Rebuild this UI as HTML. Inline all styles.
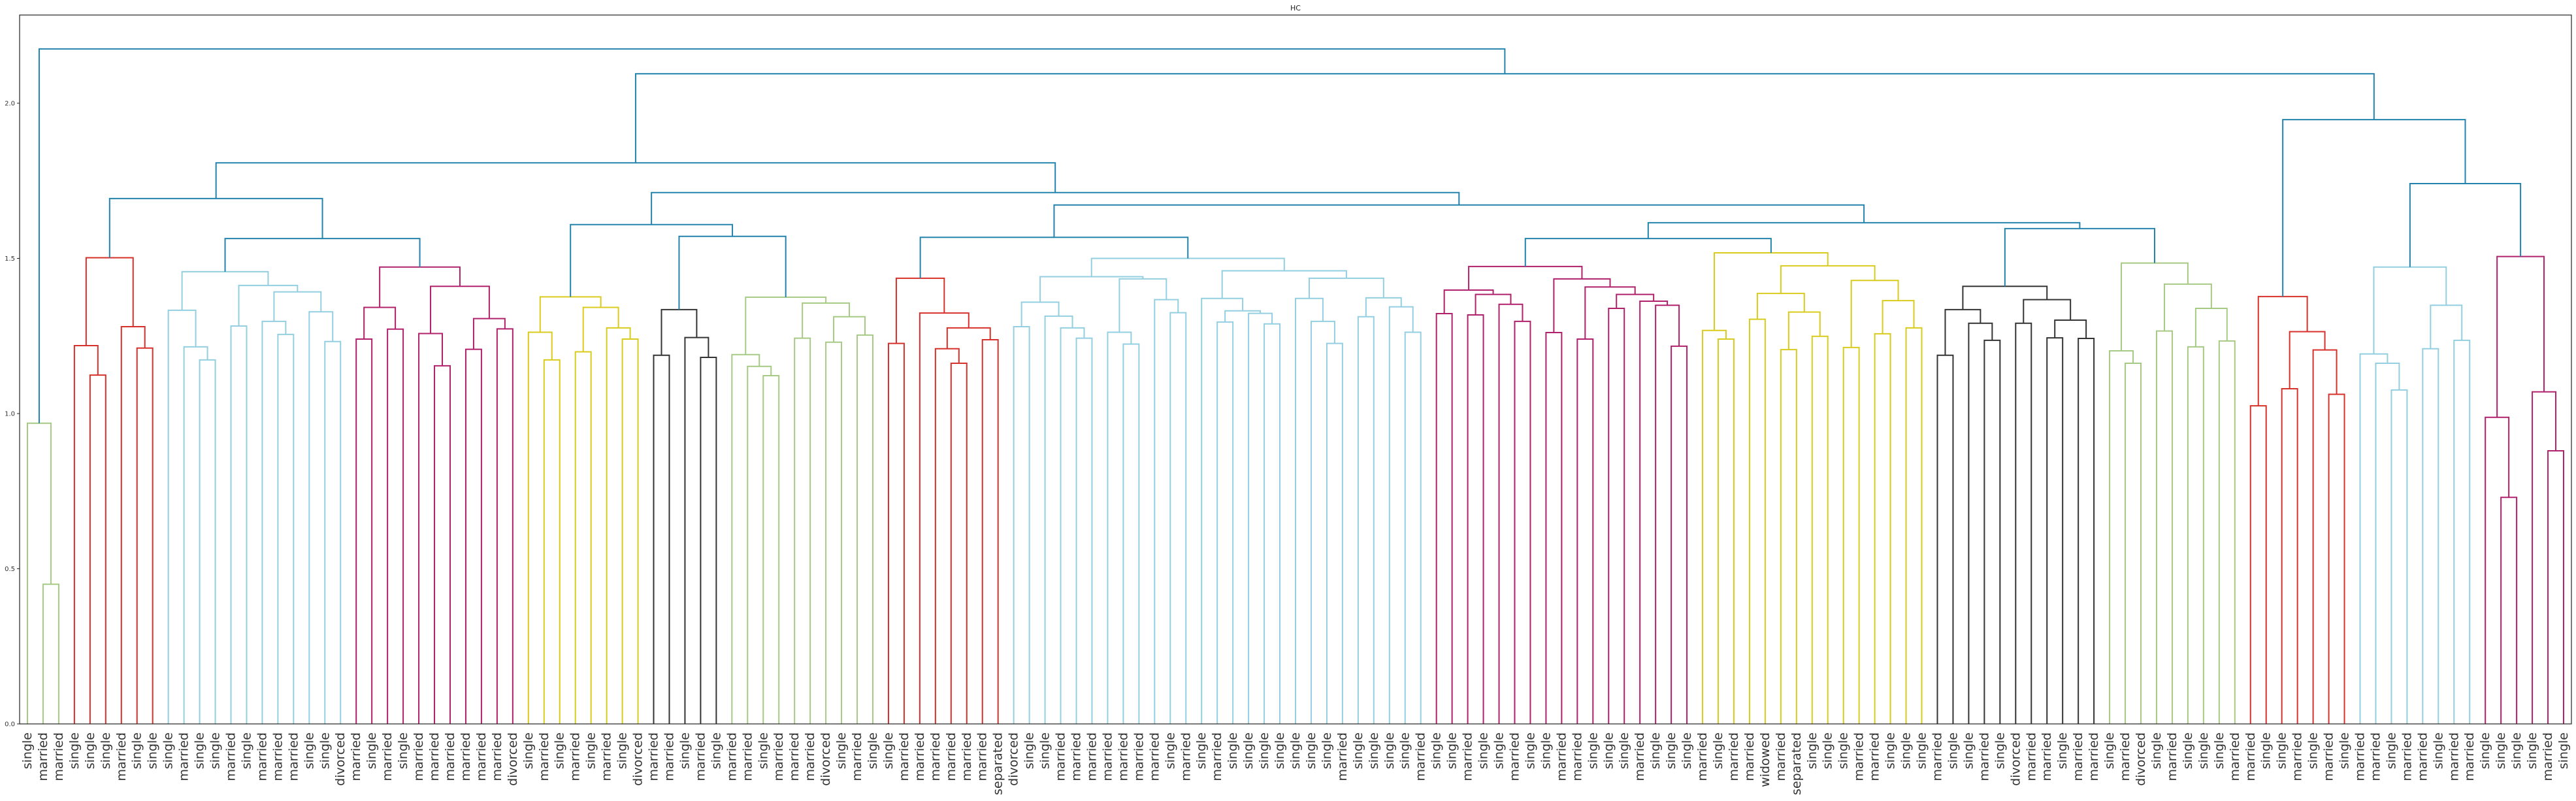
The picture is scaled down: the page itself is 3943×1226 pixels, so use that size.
<!DOCTYPE html>
<html><head><meta charset="utf-8">
<style>
html,body{margin:0;padding:0;background:#fff;}
svg{display:block;}
</style></head>
<body>
<svg id="chart" width="3943" height="1226" viewBox="0 0 3943 1226" xmlns="http://www.w3.org/2000/svg" font-family="'DejaVu Sans','Liberation Sans',sans-serif">
  <rect x="0" y="0" width="3943" height="1226" fill="#fff"/>
  <text x="1983" y="16" font-size="11" text-anchor="middle" fill="#222">HC</text>
  <g id="links"></g>
  <g id="yaxis"></g>
  <g id="xlabels"></g>
  <rect x="30" y="23" width="3906" height="1085" fill="none" stroke="#222" stroke-width="1.2"/>
</svg>
<script>
const labels = ["single","married","married","single","single","single","married","single","single","single",
"married","single","single","married","single","married","married","married","single","single",
"divorced","married","single","married","single","married","married","married","married","married",
"married","divorced","single","married","single","married","single","married","single","divorced",
"married","married","single","married","single","married","married","single","married","married",
"married","divorced","single","married","single","single","married","married","married","married",
"married","married","separated","divorced","single","single","married","married","married","married",
"married","married","married","single","married","single","married","single","single","single",
"single","single","single","single","married","single","single","single","single","married",
"single","single","married","single","single","married","single","single","married","married",
"single","single","single","married","single","single","single","married","single","married",
"married","widowed","married","separated","single","single","single","married","married","single",
"single","single","married","single","single","married","single","divorced","married","married",
"single","married","married","single","married","divorced","single","married","single","single",
"single","married","married","single","single","married","single","married","single","married",
"married","single","married","married","single","married","married","single","single","single",
"single","married","single"];
const yTicks = [0.0, 0.5, 1.0, 1.5, 2.0];
const yTickLabels = ["0.0","0.5","1.0","1.5","2.0"];
const colors = {blue:"#2383ad", red:"#d7302a", lb:"#93cfe0", mag:"#b1216b", yel:"#d9cb1c", blk:"#333333", grn:"#a6ca84"};

function M(a,b,h){return {a:a,b:b,h:h,c:null};}
function tag(n,c){ if(typeof n==="number") return n; if(!n.c) n.c=c; tag(n.a,c); tag(n.b,c); return n; }

const green1 = tag(M(1, M(2,3,0.45), 0.969),"grn");
const red1 = tag(M(M(4,M(5,6,1.124),1.219), M(7,M(8,9,1.211),1.28), 1.502),"red");
const lb1 = tag(M(M(10,M(11,M(12,13,1.173),1.215),1.333), M(M(14,15,1.282), M(M(16,M(17,18,1.255),1.297), M(19,M(20,21,1.232),1.328),1.392),1.413),1.457),"lb");
const mag1 = tag(M(M(M(22,23,1.24),M(24,25,1.272),1.342), M(M(26,M(27,28,1.154),1.258), M(M(29,30,1.207),M(31,32,1.273),1.306),1.41),1.472),"mag");
const yel1 = tag(M(M(33,M(34,35,1.173),1.262), M(M(36,37,1.199), M(38,M(39,40,1.24),1.276),1.342),1.376),"yel");
const blk1 = tag(M(M(41,42,1.188), M(43,M(44,45,1.181),1.245),1.335),"blk");
const grn2 = tag(M(M(46,M(47,M(48,49,1.122),1.152),1.19), M(M(50,51,1.243), M(M(52,53,1.23),M(54,55,1.253),1.312),1.356),1.375),"grn");
const red2 = tag(M(M(56,57,1.226), M(58, M(M(59,M(60,61,1.162),1.209), M(62,63,1.238),1.276),1.324),1.436),"red");
const lbA = M(M(64,65,1.28), M(66,M(67,M(68,69,1.243),1.276),1.314),1.359);
const lbB = M(M(70,M(71,72,1.224),1.262), M(73,M(74,75,1.325),1.367),1.434);
const lbC = M(76, M(M(77,78,1.295), M(79,M(80,81,1.289),1.323),1.331),1.371);
const lbD = M(82, M(83,M(84,85,1.226),1.297),1.371);
const lbE = M(M(86,87,1.312), M(88,M(89,90,1.262),1.344),1.373);
const lb2 = tag(M(M(lbA,lbB,1.441), M(lbC, M(lbD,lbE,1.436),1.46),1.5),"lb");
const mag2 = tag(M(M(M(91,92,1.322), M(M(93,94,1.318), M(95,M(96,97,1.297),1.352),1.384),1.398), M(M(98,99,1.261), M(M(100,101,1.24), M(M(102,103,1.339), M(104,M(105,M(106,107,1.217),1.349),1.362),1.384),1.408),1.434),1.474),"mag");
const yel2 = tag(M(M(108,M(109,110,1.24),1.268), M(M(M(111,112,1.304), M(M(113,114,1.206),M(115,116,1.249),1.327),1.387), M(M(117,118,1.213), M(M(119,120,1.257),M(121,122,1.276),1.364),1.429),1.476),1.518),"yel");
const blk2 = tag(M(M(M(123,124,1.188), M(125,M(126,127,1.236),1.291),1.335), M(M(128,129,1.291), M(M(130,131,1.244),M(132,133,1.242),1.301),1.367),1.41),"blk");
const grn3 = tag(M(M(134,M(135,136,1.162),1.202), M(M(137,138,1.266), M(M(139,140,1.215),M(141,142,1.234),1.339),1.417),1.485),"grn");
const red3 = tag(M(M(143,144,1.025), M(M(145,146,1.08), M(147,M(148,149,1.062),1.205),1.264),1.377),"red");
const lb3 = tag(M(M(150,M(151,M(152,153,1.076),1.162),1.192), M(M(154,155,1.209),M(156,157,1.236),1.349),1.472),"lb");
const mag3 = tag(M(M(158,M(159,160,0.73),0.988), M(161,M(162,163,0.88),1.07),1.506),"mag");

const nA = M(red1, M(lb1, mag1, 1.564), 1.693);
const nB = M(yel1, M(blk1, grn2, 1.571), 1.609);
const nC = M(red2, lb2, 1.568);
const nD = M(mag2, yel2, 1.564);
const nE = M(blk2, grn3, 1.596);
const nF = M(nD, nE, 1.615);
const nG = M(nC, nF, 1.672);
const nH = M(nB, nG, 1.712);
const nI = M(nA, nH, 1.808);
const nL = M(lb3, mag3, 1.741);
const nM = M(red3, nL, 1.947);
const nJ = M(nI, nM, 2.095);
const root = tag(M(green1, nJ, 2.175),"blue");

const AX_L=30, AX_R=3936, Y0=1108, PX_PER=475;
const step=(AX_R-AX_L)/labels.length;
function xLeaf(i){return AX_L+(i-0.5)*step;}
function yVal(h){return Y0-h*PX_PER;}

const NS="http://www.w3.org/2000/svg";
const linksG=document.getElementById('links');
let linkCount=0;
function draw(n){
  if(typeof n==="number") return {x:xLeaf(n), h:0};
  const L=draw(n.a), R=draw(n.b);
  const p=document.createElementNS(NS,'path');
  const yn=yVal(n.h);
  p.setAttribute('d',`M${L.x},${yVal(L.h)}V${yn}H${R.x}V${yVal(R.h)}`);
  p.setAttribute('fill','none');
  p.setAttribute('stroke',colors[n.c||"blue"]);
  p.setAttribute('stroke-width','2');
  
  
  linksG.appendChild(p);
  linkCount++;
  return {x:(L.x+R.x)/2, h:n.h};
}
draw(root);

const yG=document.getElementById('yaxis');
yTicks.forEach((v,i)=>{
  const y=yVal(v);
  const t=document.createElementNS(NS,'line');
  t.setAttribute('x1',AX_L-4);t.setAttribute('x2',AX_L);t.setAttribute('y1',y);t.setAttribute('y2',y);
  t.setAttribute('stroke','#222');
  
  
  yG.appendChild(t);
  const tx=document.createElementNS(NS,'text');
  tx.setAttribute('x',AX_L-7);tx.setAttribute('y',y+3.5);
  tx.setAttribute('font-size','10');tx.setAttribute('text-anchor','end');tx.setAttribute('fill','#333');
  tx.textContent=yTickLabels[i];
  
  
  yG.appendChild(tx);
});

const xG=document.getElementById('xlabels');
labels.forEach((lab,i)=>{
  const x=xLeaf(i+1);
  const tx=document.createElementNS(NS,'text');
  tx.setAttribute('transform',`translate(${x},1121) rotate(-90)`);
  tx.setAttribute('text-anchor','end');
  tx.setAttribute('dominant-baseline','central');
  tx.setAttribute('font-size','19');
  tx.setAttribute('fill','#333');
  tx.textContent=lab;
  
  
  xG.appendChild(tx);
});
</script>
</body></html>
